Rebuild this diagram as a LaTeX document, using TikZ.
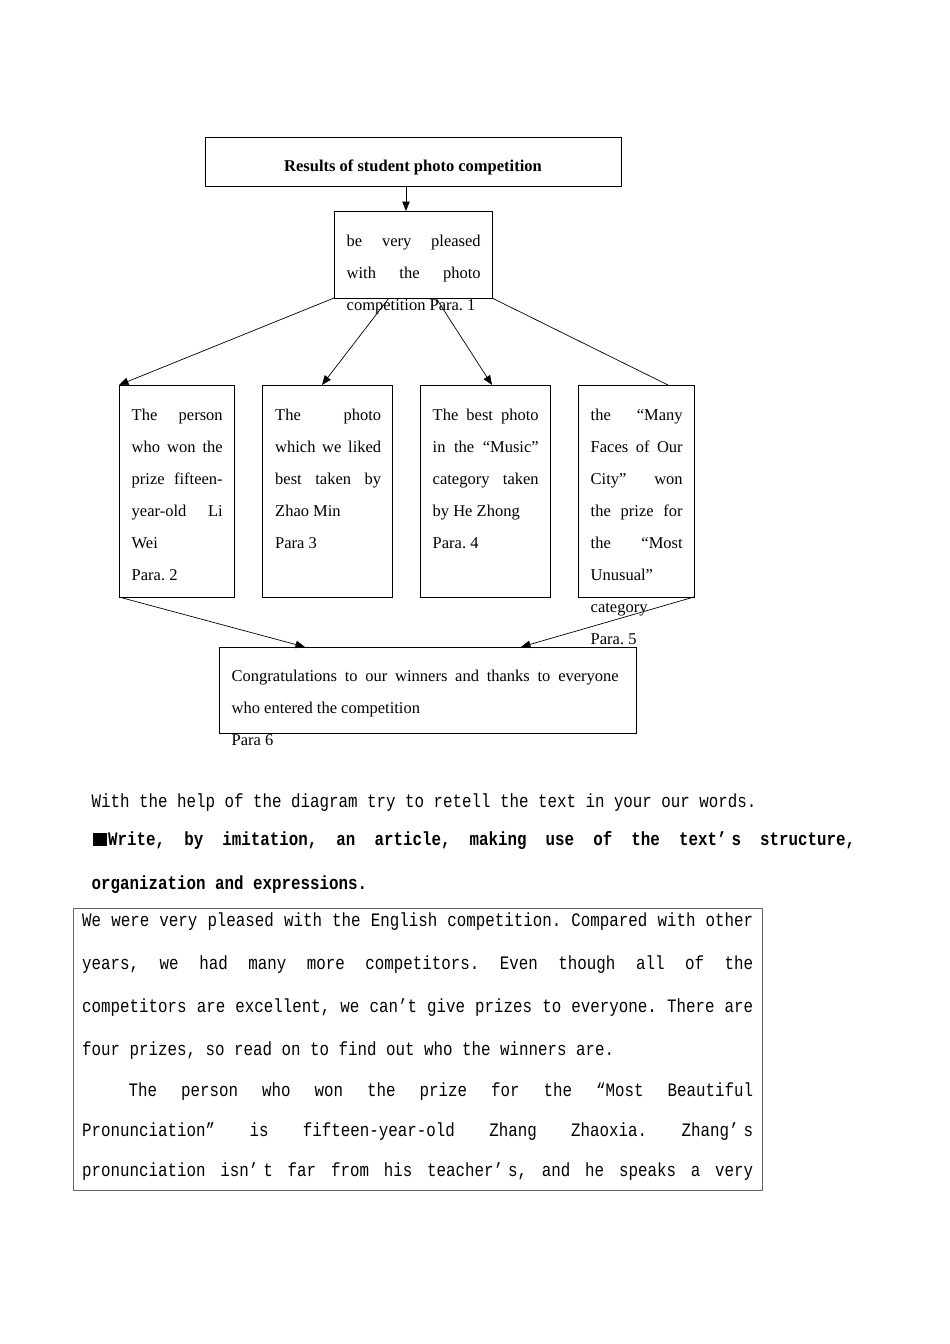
\documentclass[tikz,border=0pt]{standalone}
\usepackage{fontspec}
\setmainfont{Liberation Serif}
\newfontfamily\essayfont[FakeStretch=0.833]{Liberation Mono}
\usetikzlibrary{arrows.meta,positioning,calc}
\newcommand{\diagfont}{\fontsize{16.5}{32}\selectfont}
\newcommand{\essaytext}{\essayfont\fontsize{19}{19}\selectfont\frenchspacing}
\newcommand{\jline}[2]{\makebox[#1][s]{\frenchspacing\spaceskip=\fontdimen2\font plus 1fill\relax #2}}
\tikzset{
  framebox/.style={
    draw=black,
    line width=0.9pt,
    inner sep=0pt,
    outer sep=0pt,
    anchor=north west
  },
  boxtext/.style={
    inner sep=0pt,
    anchor=base west,
    align=justify,
    font=\diagfont,
    execute at begin node={\tolerance=10000\pretolerance=10000\hbadness=10000}
  },
  flow/.style={-{Triangle[length=9.5pt,width=7.5pt]},line width=0.7pt,draw=black},
  plainlink/.style={line width=0.7pt,draw=black},
  essayline/.style={inner sep=0pt,anchor=base west,font=\essaytext}
}
\begin{document}
\begin{tikzpicture}[x=1pt,y=-1pt]
  \useasboundingbox (0,0) rectangle (950,1344);
  % diagram boxes
  \node[framebox,minimum width=416pt,minimum height=49pt] (title) at (205,137) {};
  \node[inner sep=0pt,anchor=base,font=\diagfont\bfseries] (titletext) at (413,171) {Results of student photo competition};
  \node[framebox,minimum width=158pt,minimum height=87pt] (p1) at (334,211) {};
  \node[boxtext,text width=134pt] (p1text) at (346.5,246) {be very pleased\linebreak with the photo\linebreak competition Para.~1};
  \node[framebox,minimum width=115pt,minimum height=212pt] (p2) at (119,385) {};
  \node[boxtext,text width=91pt] (p2text) at (131.5,420) {The person\linebreak who won the\linebreak prize fifteen-\linebreak year-old Li\linebreak Wei\par Para.~2};
  \node[framebox,minimum width=130pt,minimum height=212pt] (p3) at (262,385) {};
  \node[boxtext,text width=106pt] (p3text) at (275,420) {The photo\linebreak which we liked\linebreak best taken by\linebreak Zhao Min\par Para 3};
  \node[framebox,minimum width=130pt,minimum height=212pt] (p4) at (420,385) {};
  \node[boxtext,text width=106pt] (p4text) at (432.5,420) {The best photo\linebreak in the “Music”\linebreak category taken\linebreak by He Zhong\par Para.~4};
  \node[framebox,minimum width=116pt,minimum height=212pt] (p5) at (578,385) {};
  \node[boxtext,text width=92pt] (p5text) at (590.5,420) {the “Many\linebreak Faces of Our\linebreak City” won\linebreak the prize for\linebreak the “Most\linebreak Unusual”\par category\par Para.~5};
  \node[framebox,minimum width=417pt,minimum height=86pt] (p6) at (219,647) {};
  \node[boxtext,text width=387pt] (p6text) at (231.5,681) {Congratulations to our winners and thanks to everyone\linebreak who entered the competition\par Para 6};
  % connectors
  \draw[flow] ([xshift=-7pt]title.south) -- ([xshift=-7pt]p1.north);
  \draw[flow] (p1.south west) -- (p2.north west);
  \draw[flow] ([xshift=-24pt]p1.south) -- ([xshift=-5pt]p3.north);
  \draw[flow] ([xshift=23pt]p1.south) -- ([xshift=7pt]p4.north);
  \draw[plainlink] (p1.south east) -- ([xshift=-26pt]p5.north east);
  \draw[flow] (p2.south west) -- ([xshift=86pt]p6.north west);
  \draw[flow] (p5.south east) -- ([xshift=-115pt]p6.north east);
  % task text
  \node[essayline] (retell) at (91.5,807) {With the help of the diagram try to retell the text in your our words.};
  \node[essayline,font=\essaytext\bfseries] (task) at (93,845) {\jline{762pt}{\rule[-1pt]{14pt}{13pt}\kern1pt Write, by imitation, an article, making use of the text’\kern5pt s structure,}};
  \node[essayline,font=\essaytext\bfseries] (taskend) at (91.5,889) {organization and expressions.};
  % sample article
  \node[framebox,draw=black!60,line width=0.8pt,minimum width=689pt,minimum height=282pt] (essay) at (73,908) {};
  \node[essayline] (e1) at (82,926) {\jline{671pt}{We were very pleased with the English competition. Compared with other}};
  \node[essayline] (e2) at (82,969) {\jline{671pt}{years, we had many more competitors. Even though all of the}};
  \node[essayline] (e3) at (82,1012) {\jline{671pt}{competitors are excellent, we can’t give prizes to everyone. There are}};
  \node[essayline] (e4) at (82,1055) {four prizes, so read on to find out who the winners are.};
  \node[essayline] (e5) at (82,1096) {\jline{671pt}{\hspace*{46.5pt}The person who won the prize for the “Most Beautiful}};
  \node[essayline] (e6) at (82,1136) {\jline{671pt}{Pronunciation” is fifteen-year-old Zhang Zhaoxia. Zhang’\kern5pt s}};
  \node[essayline] (e7) at (82,1176) {\jline{671pt}{pronunciation isn’\kern5pt t far from his teacher’\kern5pt s, and he speaks a very}};
\end{tikzpicture}
\end{document}
